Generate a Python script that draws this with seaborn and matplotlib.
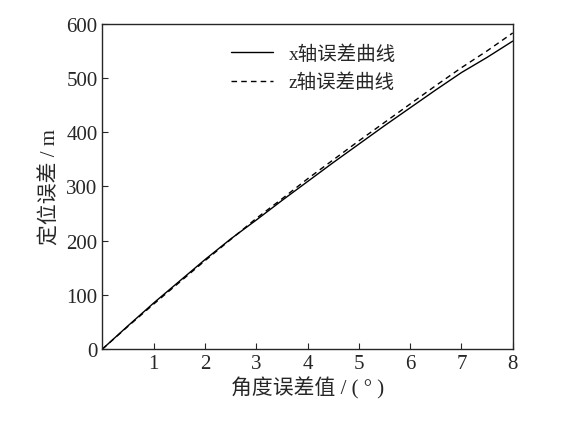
import matplotlib
matplotlib.use("Agg")
import matplotlib.pyplot as plt
import seaborn as sns
import pandas as pd

angle = [0, 0.5, 1, 1.5, 2, 2.5, 3, 3.5, 4, 4.5, 5, 5.5, 6, 6.5, 7, 7.5, 8]
x_err = [0, 43, 85, 125, 165, 203, 238, 274, 309, 344, 378, 412, 445, 478, 510, 538, 568]
z_err = [0, 42, 83, 123, 163, 202, 241, 277, 314, 349, 384, 418, 452, 486, 519, 550, 583]

sns.set_style("ticks")
plt.rcParams['font.family'] = ['Liberation Serif', 'Noto Sans CJK SC']
plt.rcParams['xtick.direction'] = 'in'
plt.rcParams['ytick.direction'] = 'in'

df = pd.DataFrame({"angle": angle * 2, "err": x_err + z_err,
                   "curve": ["x"] * len(angle) + ["z"] * len(angle)})

fig, ax = plt.subplots(figsize=(5.88, 4.27), dpi=100)
fig.subplots_adjust(left=0.174, right=0.872, top=0.942, bottom=0.18)
sns.lineplot(data=df, x="angle", y="err", style="curve", color="black",
             dashes={"x": "", "z": (4, 3)}, linewidth=1.0, ax=ax, legend=False)
ax.set_xlim(0, 8)
ax.set_ylim(0, 600)
ax.set_xticks(range(1, 9))
ax.set_yticks(range(0, 601, 100))
ax.tick_params(labelsize=15, length=4)
for s in ax.spines.values():
    s.set_linewidth(1.0)
ax.set_xlabel("角度误差值 / ( ° )", fontsize=15, labelpad=2)
ax.set_ylabel("定位误差 / m", fontsize=15)
l1, = ax.plot([], [], color="black", lw=1.0)
l2, = ax.plot([], [], color="black", lw=1.0, ls=(0, (4, 3)))
ax.legend([l1, l2], ["x轴误差曲线", "z轴误差曲线"], frameon=False, fontsize=14,
          loc="upper left", bbox_to_anchor=(0.27, 0.99), handlelength=2.2)
fig.savefig("out.png", dpi=100)
